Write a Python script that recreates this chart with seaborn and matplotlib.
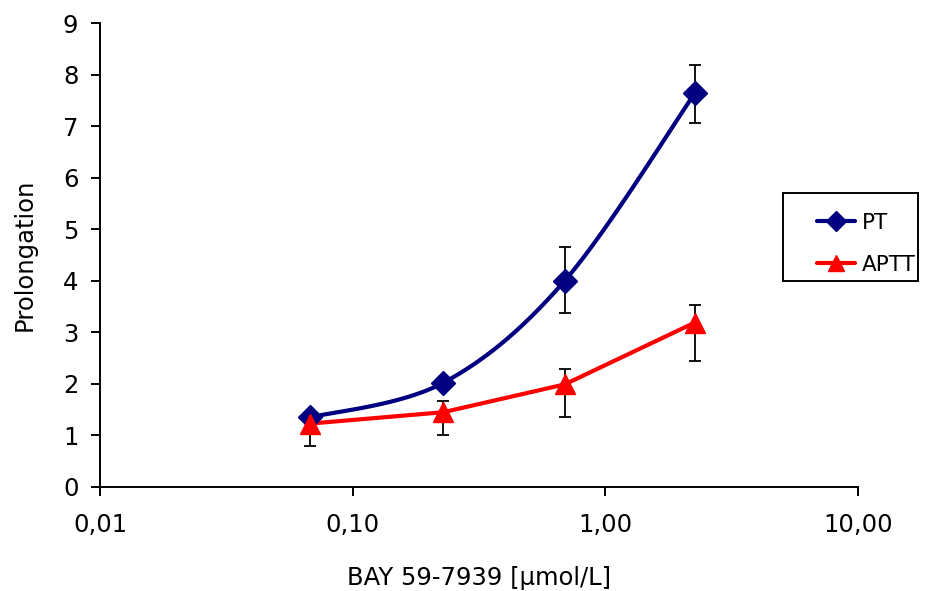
import numpy as np
import pandas as pd
import matplotlib
matplotlib.use("Agg")
import matplotlib.pyplot as plt
import seaborn as sns
from matplotlib.lines import Line2D
from matplotlib.patches import Rectangle
from matplotlib.ticker import FixedLocator, FixedFormatter, NullLocator

# ---- data ----
conc = [0.068, 0.228, 0.69, 2.26]
pt_values = [1.35, 2.02, 4.00, 7.64]
pt_err_low = [0.05, 0.05, 0.63, 0.58]
pt_err_high = [0.05, 0.05, 0.66, 0.55]
aptt_values = [1.23, 1.45, 1.99, 3.19]
aptt_err_low = [0.43, 0.45, 0.63, 0.75]
aptt_err_high = [0.20, 0.22, 0.30, 0.34]
xtick_vals = [0.01, 0.1, 1.0, 10.0]
xtick_labels = ["0,01", "0,10", "1,00", "10,00"]
ytick_vals = list(range(0, 10))

navy = "#000080"
red = "#FF0000"

sns.set_theme(style="white")
plt.rcParams['font.family'] = ['DejaVu Sans']

fig = plt.figure(figsize=(9.36, 5.91), dpi=100)
ax = fig.add_axes([0.1068, 0.176, 0.8100, 0.785])
ax.set_xscale("log")


def smooth_curve(xs, ys, n=40, sx=252.7, sy=51.55):
    # Excel-like smoothed line (cubic Bezier through points), computed in display-scaled space
    u = np.log10(np.asarray(xs)) * sx
    v = np.asarray(ys) * sy
    P = np.column_stack([u, v])
    out = []
    m = len(P)
    for i in range(m - 1):
        p0 = P[i - 1] if i > 0 else P[i]
        p1 = P[i]
        p2 = P[i + 1]
        p3 = P[i + 2] if i + 2 < m else P[i + 1]
        c1 = p1 + (p2 - p0) / 6.0
        c2 = p2 - (p3 - p1) / 6.0
        t = np.linspace(0, 1, n)[:, None]
        seg = ((1 - t) ** 3) * p1 + 3 * ((1 - t) ** 2) * t * c1 + 3 * (1 - t) * t ** 2 * c2 + t ** 3 * p2
        out.append(seg if i == 0 else seg[1:])
    out = np.vstack(out)
    return 10 ** (out[:, 0] / sx), out[:, 1] / sy


sxs, sys_ = smooth_curve(conc, pt_values)
df_pt_line = pd.DataFrame({"x": sxs, "y": sys_})
sns.lineplot(data=df_pt_line, x="x", y="y", ax=ax, color=navy, lw=3, sort=False, zorder=3)

df_aptt = pd.DataFrame({"x": conc, "y": aptt_values})
sns.lineplot(data=df_aptt, x="x", y="y", ax=ax, color=red, lw=3, sort=False, zorder=3)

# error bars
ax.errorbar(conc, pt_values, yerr=[pt_err_low, pt_err_high], fmt="none", ecolor="black",
            elinewidth=1.3, capsize=4, capthick=1.3, zorder=2)
ax.errorbar(conc, aptt_values, yerr=[aptt_err_low, aptt_err_high], fmt="none", ecolor="black",
            elinewidth=1.3, capsize=4, capthick=1.3, zorder=2)

# markers
ax.plot(conc, pt_values, ls="none", marker="D", ms=12.5, color=navy, mec=navy, zorder=4)
ax.plot(conc, aptt_values, ls="none", marker="^", ms=15, color=red, mec=red, zorder=4)

ax.set_xlim(0.01, 10)
ax.set_ylim(0, 9)
ax.xaxis.set_major_locator(FixedLocator(xtick_vals))
ax.xaxis.set_major_formatter(FixedFormatter(xtick_labels))
ax.xaxis.set_minor_locator(NullLocator())
ax.set_yticks(ytick_vals)
ax.set_yticklabels([str(v) for v in ytick_vals])

for s in ["top", "right"]:
    ax.spines[s].set_visible(False)
for s in ["left", "bottom"]:
    ax.spines[s].set_color("black")
    ax.spines[s].set_linewidth(1.4)

ax.tick_params(axis="both", which="major", direction="out", length=6.5, width=1.4,
               color="black", labelsize=17.5, labelcolor="black", bottom=True, left=True)
ax.tick_params(axis="x", pad=12)
ax.tick_params(axis="y", pad=9)

ax.set_xlabel("BAY 59-7939 [µmol/L]", fontsize=17.5, color="black", labelpad=21)
ax.set_ylabel("Prolongation", fontsize=17.5, color="black", labelpad=19)

handles = [
    Line2D([0], [0], color=navy, lw=3, marker="D", ms=10, mfc=navy, mec=navy),
    Line2D([0], [0], color=red, lw=3, marker="^", ms=12, mfc=red, mec=red),
]
leg = fig.legend(handles, ["PT", "APTT"], loc="upper left", bbox_to_anchor=(817 / 936, 1 - 213 / 591),
                 frameon=False, fontsize=15.5, labelcolor="black",
                 handlelength=1.77, handletextpad=0.33, labelspacing=1.0, borderpad=0,
                 borderaxespad=0)
fig.patches.append(Rectangle((783 / 936, 1 - 281 / 591), 135 / 936, 88 / 591,
                             transform=fig.transFigure, fill=False, ec="black", lw=1.4))

fig.savefig("out.png", dpi=100, facecolor="white")
